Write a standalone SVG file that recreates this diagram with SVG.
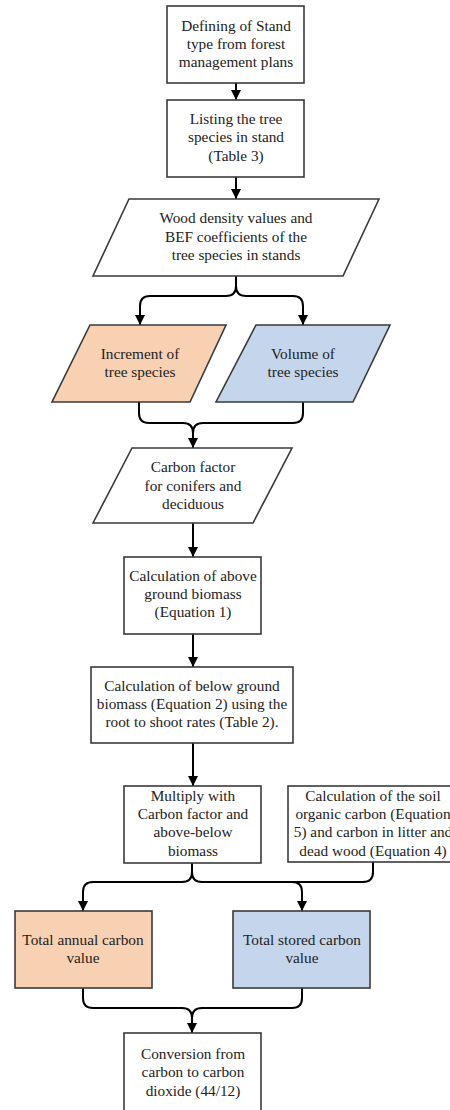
<svg xmlns="http://www.w3.org/2000/svg" width="450" height="1110" viewBox="0 0 450 1110">
<defs>
<marker id="ah" viewBox="0 0 10 10" refX="10" refY="5" markerWidth="10" markerHeight="10" markerUnits="userSpaceOnUse" orient="auto">
<path d="M0,0 L10,5 L0,10 Z" fill="#000"/>
</marker>
<style>
.n{stroke:#3a3a3a;stroke-width:1.6;fill:#fff}
.or{fill:#F8D1B2}
.bl{fill:#C5D6EC}
.t{font-family:"Liberation Serif","Times New Roman",serif;font-size:15.3px;fill:#222;text-anchor:middle}
.c{fill:none;stroke:#000;stroke-width:2}
.a{marker-end:url(#ah)}
</style>
</defs>
<rect width="450" height="1110" fill="#fff"/>
<g id="connectors">
<path class="c a" d="M236,83 V100"/>
<path class="c a" d="M236,177 V199"/>
<path class="c a" d="M236,276 V286 Q236,296 226,296 H150 Q140,296 140,306 V325"/>
<path class="c a" d="M236,276 V286 Q236,296 246,296 H293 Q303,296 303,306 V325"/>
<path class="c" d="M139,402 V413 Q139,423 149,423 H183 Q193,423 193,433"/>
<path class="c a" d="M303,402 V413 Q303,423 293,423 H203 Q193,423 193,433 V448"/>
<path class="c a" d="M193,523 V557"/>
<path class="c a" d="M193,634 V667"/>
<path class="c a" d="M193,743 V786"/>
<path class="c a" d="M192,863 V872 Q192,882 182,882 H93 Q83,882 83,892 V911"/>
<path class="c a" d="M192,863 V872 Q192,882 202,882 H292 Q302,882 302,892 V911"/>
<path class="c" d="M373,862 V872 Q373,882 363,882 H292"/>
<path class="c" d="M83,988 V998 Q83,1008 93,1008 H182 Q192,1008 192,1018"/>
<path class="c a" d="M302,988 V998 Q302,1008 292,1008 H202 Q192,1008 192,1018 V1033"/>
</g>
<g id="n1">
<rect class="n" x="167" y="6" width="137" height="77"/>
<text class="t" x="236" y="31">Defining of Stand</text>
<text class="t" x="236" y="49">type from forest</text>
<text class="t" x="236" y="67">management plans</text>
</g>
<g id="n2">
<rect class="n" x="167" y="100" width="137" height="77"/>
<text class="t" x="236" y="124">Listing the tree</text>
<text class="t" x="236" y="142">species in stand</text>
<text class="t" x="236" y="161">(Table 3)</text>
</g>
<g id="n3">
<polygon class="n" points="129,199 379,199 343,276 93,276"/>
<text class="t" x="236" y="223">Wood density values and</text>
<text class="t" x="236" y="242">BEF coefficients of the</text>
<text class="t" x="236" y="260">tree species in stands</text>
</g>
<g id="n4">
<polygon class="n or" points="90,325 226,325 190,402 52,402"/>
<text class="t" x="140" y="359">Increment of</text>
<text class="t" x="140" y="377">tree species</text>
</g>
<g id="n5">
<polygon class="n bl" points="256,325 390,325 353,402 216,402"/>
<text class="t" x="303" y="359">Volume of</text>
<text class="t" x="303" y="377">tree species</text>
</g>
<g id="n6">
<polygon class="n" points="132,448 292,448 253,523 93,523"/>
<text class="t" x="193" y="472">Carbon factor</text>
<text class="t" x="193" y="491">for conifers and</text>
<text class="t" x="193" y="509">deciduous</text>
</g>
<g id="n7">
<rect class="n" x="124" y="557" width="137" height="77"/>
<text class="t" x="193" y="581">Calculation of above</text>
<text class="t" x="193" y="599">ground biomass</text>
<text class="t" x="193" y="617">(Equation 1)</text>
</g>
<g id="n8">
<rect class="n" x="91" y="667" width="202" height="76"/>
<text class="t" x="192" y="691">Calculation of below ground</text>
<text class="t" x="192" y="709">biomass (Equation 2) using the</text>
<text class="t" x="192" y="727">root to shoot rates (Table 2).</text>
</g>
<g id="n9">
<rect class="n" x="124" y="786" width="137" height="77"/>
<text class="t" x="193" y="801">Multiply with</text>
<text class="t" x="193" y="819">Carbon factor and</text>
<text class="t" x="193" y="837">above-below</text>
<text class="t" x="193" y="856">biomass</text>
</g>
<g id="n10">
<rect class="n" x="288" y="786" width="170" height="76"/>
<text class="t" x="373" y="801">Calculation of the soil</text>
<text class="t" x="373" y="819">organic carbon (Equation</text>
<text class="t" x="373" y="837">5) and carbon in litter and</text>
<text class="t" x="373" y="856">dead wood (Equation 4)</text>
</g>
<g id="n11">
<rect class="n or" x="15" y="911" width="137" height="77"/>
<text class="t" x="83" y="945">Total annual carbon</text>
<text class="t" x="83" y="963">value</text>
</g>
<g id="n12">
<rect class="n bl" x="233" y="911" width="137" height="77"/>
<text class="t" x="302" y="945">Total stored carbon</text>
<text class="t" x="302" y="963">value</text>
</g>
<g id="n13">
<rect class="n" x="124" y="1033" width="137" height="82"/>
<text class="t" x="193" y="1059">Conversion from</text>
<text class="t" x="193" y="1077">carbon to carbon</text>
<text class="t" x="193" y="1096">dioxide (44/12)</text>
</g>
</svg>
